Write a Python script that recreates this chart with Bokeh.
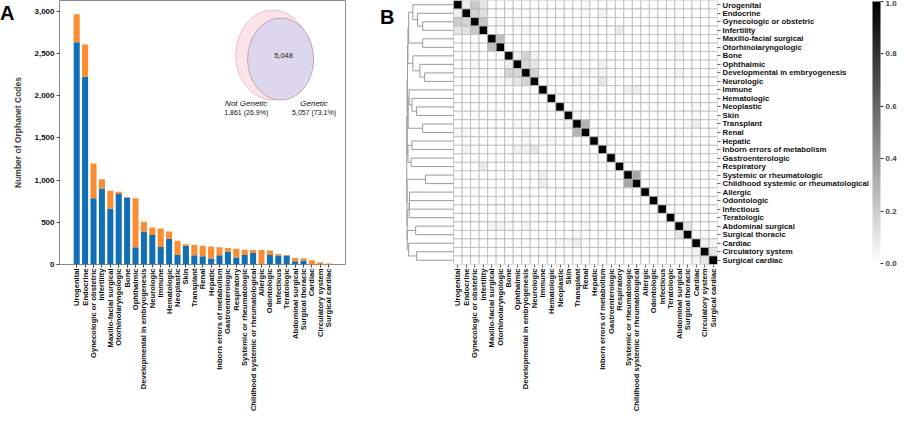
import numpy as np
from bokeh.plotting import figure
from bokeh.models import (ColumnDataSource, FixedTicker, NumeralTickFormatter, Div, LinearAxis,
                          LinearColorMapper, ColorBar, PrintfTickFormatter, Range1d)
from bokeh.layouts import row
from bokeh.palettes import Greys256
from bokeh.embed import file_html
from bokeh.resources import INLINE
from bokeh.core.properties import value

# ---------------- data ----------------
categories = ["Urogenital", "Endocrine", "Gynecologic or obstetric", "Infertility",
              "Maxillo-facial surgical", "Otorhinolaryngologic", "Bone", "Ophthalmic",
              "Developmental in embryogenesis", "Neurologic", "Immune", "Hematologic",
              "Neoplastic", "Skin", "Transplant", "Renal", "Hepatic",
              "Inborn errors of metabolism", "Gastroenterologic", "Respiratory",
              "Systemic or rheumatologic", "Childhood systemic or rheumatological",
              "Allergic", "Odontologic", "Infectious", "Teratologic", "Abdominal surgical",
              "Surgical thoracic", "Cardiac", "Circulatory system", "Surgical cardiac"]
genetic = [2634, 2227, 784, 902, 662, 835, 795, 204, 392, 349, 208, 306, 114, 223, 110, 98,
           70, 110, 153, 82, 114, 137, 0, 114, 106, 106, 39, 47, 0, 0, 0]
total = [2968, 2607, 1196, 1011, 874, 862, 800, 784, 506, 439, 427, 392, 282, 240, 231, 223,
         212, 204, 196, 188, 176, 172, 172, 165, 125, 114, 78, 74, 51, 27, 12]
yticks = [0, 500, 1000, 1500, 2000, 2500, 3000]

venn_overlap = 5048
venn_labels = ["Not Genetic", "Genetic"]
venn_counts = ["1,861 (26.9%)", "5,057 (73,1%)"]

# off-diagonal similarity pairs (row, col, value) of the heatmap (symmetric)
pair_i = [0, 0, 0, 1, 1, 2, 4, 6, 6, 7, 7, 8, 6, 14, 13, 20, 26, 28, 29, 28,
          3, 9, 7, 8, 1, 10, 10, 4, 5, 8, 14, 15, 27, 2, 2, 0, 8, 8, 7, 9, 12, 11, 6, 1, 13, 3, 27]
pair_j = [1, 2, 3, 2, 3, 3, 5, 7, 8, 8, 9, 9, 9, 15, 14, 21, 27, 29, 30, 30,
          19, 17, 17, 17, 17, 20, 21, 26, 26, 26, 28, 26, 29, 5, 7, 15, 15, 16, 14, 14, 28, 16, 26, 15, 28, 8, 14]
pair_v = [0.06, 0.2, 0.1, 0.17, 0.12, 0.22, 0.25, 0.06, 0.17, 0.15, 0.1, 0.17, 0.05, 0.3, 0.04,
          0.35, 0.1, 0.05, 0.1, 0.04, 0.08, 0.1, 0.05, 0.05, 0.04, 0.06, 0.06, 0.04, 0.04, 0.04,
          0.06, 0.03, 0.03, 0.03, 0.03, 0.03, 0.04, 0.03, 0.03, 0.03, 0.03, 0.03, 0.03, 0.03,
          0.03, 0.03, 0.03]
cbar_ticks = [0.0, 0.2, 0.4, 0.6, 0.8, 1.0]

# dendrogram merges: (node_a, node_b, height); leaves 0..30, merges numbered from 31
merges = [(2, 3, 0.66), (1, 31, 0.77), (0, 32, 0.87), (4, 5, 0.66), (8, 9, 0.62),
          (7, 35, 0.72), (6, 36, 0.87), (33, 34, 0.96), (38, 37, 0.975), (12, 13, 0.79),
          (11, 40, 0.89), (10, 41, 0.95), (14, 15, 0.66), (42, 43, 0.97), (39, 44, 0.985),
          (16, 17, 0.89), (18, 19, 0.91), (46, 47, 0.975), (45, 48, 0.99), (20, 21, 0.6),
          (22, 23, 0.94), (51, 24, 0.945), (52, 25, 0.95), (26, 27, 0.81), (29, 30, 0.79),
          (28, 55, 0.96), (54, 56, 0.99), (53, 57, 0.992), (50, 58, 0.995), (49, 59, 1.0)]

FONT = "Liberation Sans"
BLUE = "#1170b5"
ORANGE = "#fd8b2f"
N = len(categories)

H = 414
TOP = 0
BOT = 150
FH = H - TOP - BOT
XLAB = "7.6px"

# ---------------- panel A ----------------
XA0, XA1, YA1 = -2.05, 32.0, 3130.0
pa = figure(width=365, height=H, x_range=Range1d(XA0, XA1),
            y_range=Range1d(0, YA1), output_backend="svg", toolbar_location=None,
            min_border_left=44, min_border_right=30, min_border_top=TOP, min_border_bottom=BOT)
pa.border_fill_color = None
idx = list(range(N))
src = ColumnDataSource(dict(x=idx, g=genetic, t=total))
pa.vbar(x="x", top="g", bottom=0, width=0.72, source=src, fill_color=BLUE, line_color=None)
pa.vbar(x="x", top="t", bottom="g", width=0.72, source=src, fill_color=ORANGE, line_color=None)

pa.xgrid.visible = False
pa.ygrid.visible = False
pa.outline_line_color = "#8c8c8c"
pa.outline_line_width = 1
pa.xaxis.ticker = FixedTicker(ticks=idx)
pa.xaxis.major_label_overrides = {i: c for i, c in enumerate(categories)}
pa.xaxis.major_label_orientation = np.pi / 2
pa.yaxis.ticker = FixedTicker(ticks=yticks)
pa.yaxis.formatter = NumeralTickFormatter(format="0,0")
pa.yaxis.axis_label = "Number of Orphanet Codes"
for ax in (pa.xaxis[0], pa.yaxis[0]):
    ax.axis_line_color = None
    ax.major_tick_in = 0
    ax.major_tick_out = 3
    ax.minor_tick_line_color = None
    ax.major_tick_line_color = "#444444"
    ax.major_label_text_font = FONT
    ax.major_label_text_font_style = "bold"
    ax.major_label_text_color = "#111111"
    ax.major_label_standoff = 2
pa.xaxis.major_label_standoff = 1
pa.xaxis.major_label_text_font_size = XLAB
pa.yaxis.major_label_text_font_size = "8px"
pa.yaxis.axis_label_text_font = FONT
pa.yaxis.axis_label_text_font_style = "bold"
pa.yaxis.axis_label_text_font_size = "8.5px"
pa.yaxis.axis_label_standoff = 8

# Venn inset (positions in reference pixel space converted to data coordinates)
def pxa(px, py):
    return (XA0 + (px - 52) * (XA1 - XA0) / 291.0, (273 - py) * YA1 / 266.0)

cx, cy = pxa(269, 62)
pa.ellipse(x=[cx], y=[cy], width=74, height=90, width_units="screen", height_units="screen",
           fill_color="#fbe1e7", fill_alpha=0.9, line_color="#efbcc7", line_width=1)
cx2, cy2 = pxa(277, 66)
pa.ellipse(x=[cx2], y=[cy2], width=66, height=82, width_units="screen", height_units="screen",
           fill_color="#d9d5ee", fill_alpha=0.9, line_color="#c7a0ab", line_width=1)
tx, ty = pxa(280, 62)
pa.text(x=[tx], y=[ty], text=["{:,}".format(venn_overlap)], text_font=value(FONT),
        text_font_size="7.5px", text_align="center", text_baseline="middle", text_color="#222222")
for lab, cnt, px in zip(venn_labels, venn_counts, (242, 311)):
    lx, ly = pxa(px, 111)
    pa.text(x=[lx], y=[ly], text=[lab], text_font=value(FONT), text_font_size="8px",
            text_font_style="italic", text_align="center", text_baseline="middle",
            text_color="#111111")
    lx, ly = pxa(px, 120)
    pa.text(x=[lx], y=[ly], text=[cnt], text_font=value(FONT), text_font_size="7px",
            text_align="center", text_baseline="middle", text_color="#111111")

# panel letter "A" as an overlaid HTML element
divA = Div(text='<div style="position:absolute; left:-5px; top:-4px; z-index:20; '
                'font-family:\'Liberation Sans\'; font-weight:bold; font-size:20px; '
                'line-height:24px; white-space:nowrap; color:#000;">A</div>',
           width=0, height=1, styles={"overflow": "visible", "position": "relative", "z-index": "20"})

# ---------------- panel B ----------------
mat = np.eye(N)
for i, j, v in zip(pair_i, pair_j, pair_v):
    mat[i, j] = v
    mat[j, i] = v

xs_c, ys_c, vals = [], [], []
for i in range(N):
    for j in range(N):
        xs_c.append(j + 0.5)
        ys_c.append(N - 0.5 - i)
        vals.append(mat[i, j])

mapper = LinearColorMapper(palette=list(reversed(Greys256)), low=0, high=1)

XB0 = -5.65
pb = figure(width=525, height=H, x_range=Range1d(XB0, N), y_range=Range1d(0, N),
            output_backend="svg", toolbar_location=None, y_axis_location="right",
            min_border_left=30, min_border_right=0, min_border_top=TOP, min_border_bottom=BOT)
srcb = ColumnDataSource(dict(x=xs_c, y=ys_c, v=vals))
pb.rect(x="x", y="y", width=1, height=1, source=srcb,
        fill_color={"field": "v", "transform": mapper},
        line_color="#b9b9b9", line_width=0.8)

# dendrogram
SCALE = 5.5
ypos = {i: N - 0.5 - i for i in range(N)}
hpos = {i: 0.0 for i in range(N)}
dxs, dys = [], []
for k, (a, b, h) in enumerate(merges):
    node = N + k
    xa, xb, xh = -hpos[a] * SCALE, -hpos[b] * SCALE, -h * SCALE
    dxs.append([xa, xh, xh, xb])
    dys.append([ypos[a], ypos[a], ypos[b], ypos[b]])
    ypos[node] = (ypos[a] + ypos[b]) / 2.0
    hpos[node] = h
pb.multi_line(xs=dxs, ys=dys, line_color="#9a9a9a", line_width=1)

pb.xgrid.visible = False
pb.ygrid.visible = False
pb.outline_line_color = None
pb.xaxis.ticker = FixedTicker(ticks=[j + 0.5 for j in range(N)])
pb.xaxis.major_label_overrides = {j + 0.5: c for j, c in enumerate(categories)}
pb.xaxis.major_label_orientation = np.pi / 2
pb.yaxis.ticker = FixedTicker(ticks=[N - 0.5 - i for i in range(N)])
pb.yaxis.major_label_overrides = {N - 0.5 - i: c for i, c in enumerate(categories)}
for ax in (pb.xaxis[0], pb.yaxis[0]):
    ax.axis_line_color = None
    ax.major_tick_in = 0
    ax.major_tick_out = 3
    ax.minor_tick_line_color = None
    ax.major_tick_line_color = "#666666"
    ax.major_label_text_font = FONT
    ax.major_label_text_font_style = "bold"
    ax.major_label_text_color = "#111111"
    ax.major_label_standoff = 2
pb.xaxis.major_label_standoff = 1
pb.xaxis.major_label_text_font_size = XLAB
pb.yaxis.major_label_text_font_size = "7.8px"

cb = ColorBar(color_mapper=mapper, ticker=FixedTicker(ticks=cbar_ticks),
              formatter=PrintfTickFormatter(format="%.1f"), width=8, padding=1,
              label_standoff=2, major_label_text_font=FONT, major_label_text_font_size="8px",
              major_label_text_font_style="bold",
              major_tick_in=0, major_tick_out=3, major_tick_line_color="#333333",
              bar_line_color=None, border_line_color=None, background_fill_color=None,
              location=(0, 0))
pb.add_layout(cb, "right")

# panel letter "B" as the single tick label of an extra, otherwise invisible left axis
b_tick = N - 6.0 * N / FH
bax = LinearAxis(ticker=FixedTicker(ticks=[b_tick]), major_label_overrides={b_tick: "B"},
                 axis_line_color=None, major_tick_line_color=None, minor_tick_line_color=None,
                 major_tick_in=0, major_tick_out=0, major_label_standoff=11,
                 major_label_text_font=FONT, major_label_text_font_size="20px",
                 major_label_text_font_style="bold", major_label_text_color="#000000")
pb.add_layout(bax, "left")

layout = row(divA, pa, pb, spacing=0)
open("out.html", "w").write(file_html(layout, INLINE))
